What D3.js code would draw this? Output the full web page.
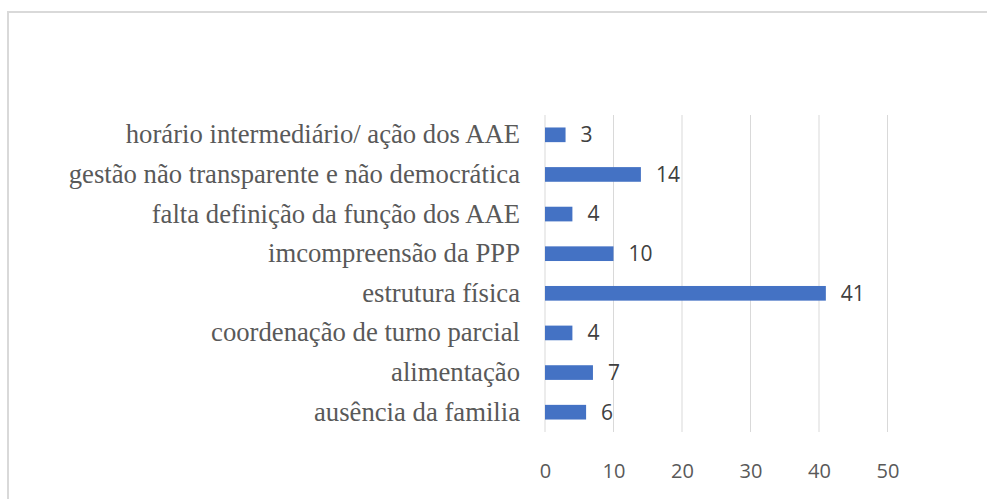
<!DOCTYPE html>
<html><head><meta charset="utf-8">
<script src="https://cdn.jsdelivr.net/npm/d3@7"></script>
<style>body{margin:0;background:#fff}svg{display:block}</style>
</head><body>
<svg id="c" width="987" height="499"></svg>
<script>
const categories = ["horário intermediário/ ação dos AAE","gestão não transparente e não democrática","falta definição da função dos AAE","imcompreensão da PPP","estrutura física","coordenação de turno parcial","alimentação","ausência da familia"];
const values = [3,14,4,10,41,4,7,6];
const ticks = [0,10,20,30,40,50];

const svg = d3.select("#c");
svg.append("rect").attr("x",8).attr("y",12).attr("width",1100).attr("height",600)
  .attr("fill","#fff").attr("stroke","#d9d9d9").attr("stroke-width",2);

const x = d3.scaleLinear().domain([0,50]).range([545,887.5]);
const y = d3.scaleBand().domain(categories).range([115,432]).paddingInner(0.63).paddingOuter(0.315);

svg.append("g").selectAll("line").data(ticks).join("line")
  .attr("x1",d=>x(d)).attr("x2",d=>x(d)).attr("y1",115).attr("y2",432)
  .attr("stroke","#d9d9d9").attr("stroke-width",1);

const xAxis = svg.append("g").attr("transform","translate(0,471)")
  .call(d3.axisBottom(x).tickValues(ticks).tickSize(0).tickPadding(0));
xAxis.select(".domain").remove();
xAxis.selectAll("text").attr("dy","0.35em").attr("fill","#595959")
  .style("font-family","'Open Sans', sans-serif").style("font-size","20px");

svg.append("g").selectAll("rect").data(values).join("rect")
  .attr("x",x(0)).attr("y",(d,i)=>y(categories[i]))
  .attr("width",d=>x(d)-x(0)).attr("height",y.bandwidth()).attr("fill","#4472C4");

svg.append("g").selectAll("text").data(values).join("text")
  .attr("x",d=>x(d)+15).attr("y",(d,i)=>y(categories[i])+y.bandwidth()/2).attr("dy","0.35em")
  .attr("fill","#404040").style("font-family","'Open Sans', sans-serif").style("font-size","21px")
  .text(d=>d);

const yAxis = svg.append("g").attr("transform","translate(520,0)")
  .call(d3.axisLeft(y).tickSize(0).tickPadding(0));
yAxis.select(".domain").remove();
yAxis.selectAll("text").attr("dy","0.32em").attr("fill","#595959")
  .style("font-family","'Liberation Serif', 'Times New Roman', serif").style("font-size","26.7px");
</script>
</body></html>
